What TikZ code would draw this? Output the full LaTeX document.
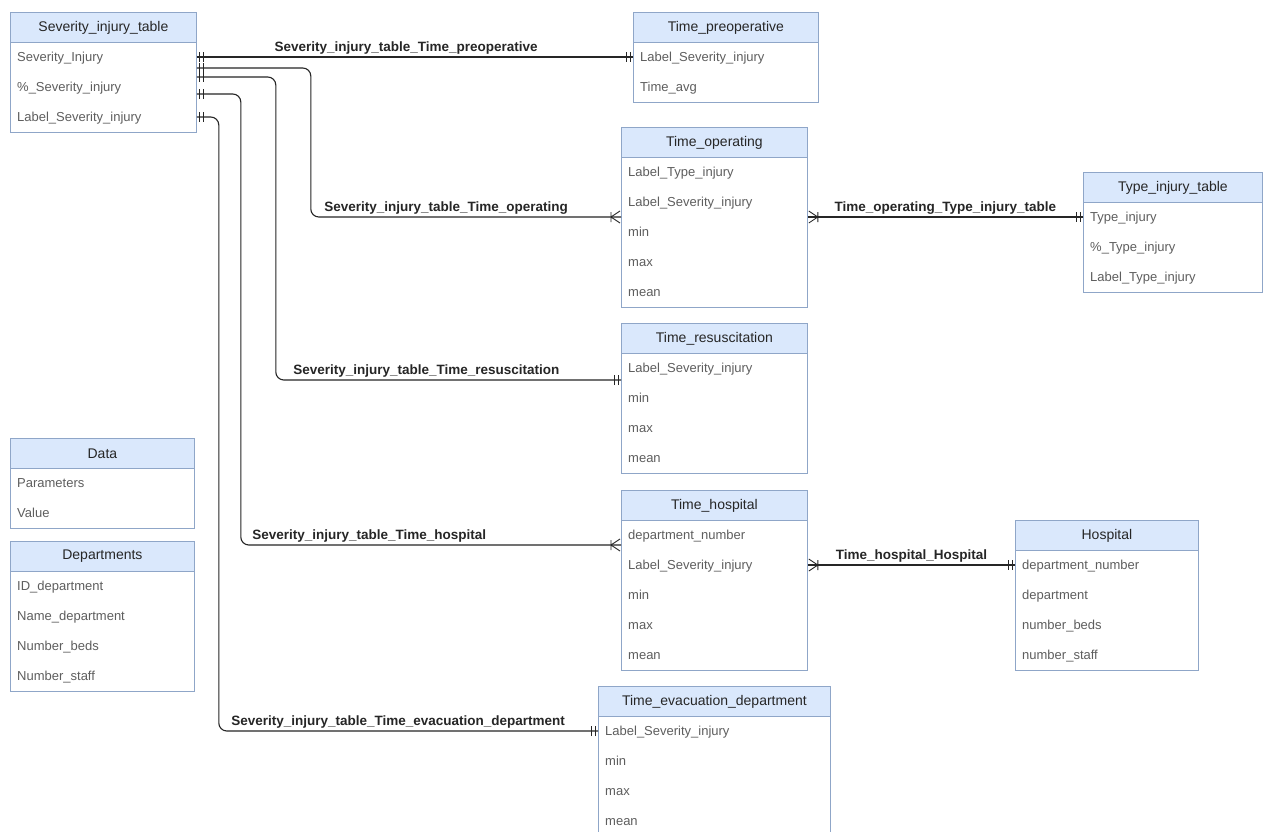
\documentclass[tikz,border=0pt]{standalone}
\usepackage{fontspec}
\setmainfont{Liberation Sans}
\usetikzlibrary{calc, decorations.markings}
\definecolor{headblue}{HTML}{DAE8FC}
\definecolor{edgeblue}{HTML}{8FA6C8}
\definecolor{rowgray}{HTML}{5E5E5E}

% one table: name, x, y, width, number of rows, title, rows
\newcommand{\ertable}[7]{%
  \draw[tabbody] (#2,#3) rectangle ++(#4,30+30*#5);
  \node[tabhead, minimum width=#4pt, anchor=north west] (#1) at (#2,#3) {#6};
  \foreach \f [count=\k] in {#7}
    \node[tabrow] (#1-\k) at (#2+7,#3+15+30*\k) {\f};
}

\tikzset{
  tabbody/.style={draw=edgeblue, fill=white, line width=0.8pt},
  tabhead/.style={draw=edgeblue, fill=headblue, line width=0.8pt,
                  minimum height=30pt, inner sep=0pt,
                  text=black!85, font=\fontsize{14}{16}\selectfont},
  tabrow/.style={anchor=west, inner sep=0pt, text=rowgray,
                 text height=11pt, text depth=2pt,
                 font=\fontsize{13}{15}\selectfont},
  rel/.style={draw=black!85, line width=1.1pt, rounded corners=8pt},
  lbl/.style={text=black!85, inner sep=2pt,
              font=\fontsize{13.5}{15}\selectfont\bfseries},
  erone start/.style={postaction={decorate, decoration={markings,
      mark=at position 3pt with {\draw[line width=0.9pt] (0,-5pt) -- (0,5pt);},
      mark=at position 7pt with {\draw[line width=0.9pt] (0,-5pt) -- (0,5pt);}}}},
  erone end/.style={postaction={decorate, decoration={markings,
      mark=at position -3pt with {\draw[line width=0.9pt] (0,-5pt) -- (0,5pt);},
      mark=at position -7pt with {\draw[line width=0.9pt] (0,-5pt) -- (0,5pt);}}}},
  ermany end/.style={postaction={decorate, decoration={markings,
      mark=at position -10pt with {\draw[line width=0.9pt] (0,-5pt) -- (0,5pt)
                                   (0,0) -- (9pt,6pt) (0,0) -- (9pt,-6pt);}}}},
}

\begin{document}
\begin{tikzpicture}[x=1pt, y=-1pt]
  \useasboundingbox[fill=white] (0,0) rectangle (1263,832);

  \ertable{sev}{10}{12}{186}{3}{Severity\_injury\_table}
    {Severity\_Injury, \%\_Severity\_injury, Label\_Severity\_injury}
  \ertable{preop}{633}{12}{185}{2}{Time\_preoperative}
    {Label\_Severity\_injury, Time\_avg}
  \ertable{oper}{621}{127}{186}{5}{Time\_operating}
    {Label\_Type\_injury, Label\_Severity\_injury, min, max, mean}
  \ertable{typ}{1083}{172}{179}{3}{Type\_injury\_table}
    {Type\_injury, \%\_Type\_injury, Label\_Type\_injury}
  \ertable{resus}{621}{323}{186}{4}{Time\_resuscitation}
    {Label\_Severity\_injury, min, max, mean}
  \ertable{thosp}{621}{490}{186}{5}{Time\_hospital}
    {department\_number, Label\_Severity\_injury, min, max, mean}
  \ertable{hosp}{1015}{520}{183}{4}{Hospital}
    {department\_number, department, number\_beds, number\_staff}
  \ertable{evac}{598}{686}{232}{4}{Time\_evacuation\_department}
    {Label\_Severity\_injury, min, max, mean}
  \ertable{data}{10}{438}{184}{2}{Data}
    {Parameters, Value}
  \ertable{dept}{10}{541}{184}{4}{Departments}
    {ID\_department, Name\_department, Number\_beds, Number\_staff}

  % relations from Severity_injury_table
  \draw[rel, erone start, erone end] (sev.east |- sev-1) -- (preop.west |- preop-1)
    node[lbl, pos=0.48, above] {Severity\_injury\_table\_Time\_preoperative};
  \draw[rel, erone start, ermany end] ($(sev.east |- sev-1)+(0,11)$) -- ++(114,0)
    |- ($(oper.west |- oper-2)+(0,15)$)
    node[lbl, pos=0.5, anchor=south west, xshift=11pt] {Severity\_injury\_table\_Time\_operating};
  \draw[rel, erone start, erone end] ($(sev.east |- sev-1)+(0,20)$) -- ++(79,0)
    |- ($(resus.west |- resus-1)+(0,12)$)
    node[lbl, pos=0.5, anchor=south west, xshift=15pt] {Severity\_injury\_table\_Time\_resuscitation};
  \draw[rel, erone start, ermany end] ($(sev.east |- sev-2)+(0,7)$) -- ++(44,0)
    |- ($(thosp.west |- thosp-1)+(0,10)$)
    node[lbl, pos=0.5, anchor=south west, xshift=9pt] {Severity\_injury\_table\_Time\_hospital};
  \draw[rel, erone start, erone end] (sev.east |- sev-3) -- ++(22,0)
    |- (evac.west |- evac-1)
    node[lbl, pos=0.5, anchor=south west, xshift=10pt] {Severity\_injury\_table\_Time\_evacuation\_department};

  % other relations
  \draw[rel, erone start, ermany end] (typ.west |- typ-1) -- (oper.east |- typ-1)
    node[lbl, midway, above] {Time\_operating\_Type\_injury\_table};
  \draw[rel, erone start, ermany end] (hosp.west |- hosp-1) -- (thosp.east |- hosp-1)
    node[lbl, midway, above] {Time\_hospital\_Hospital};
\end{tikzpicture}
\end{document}
